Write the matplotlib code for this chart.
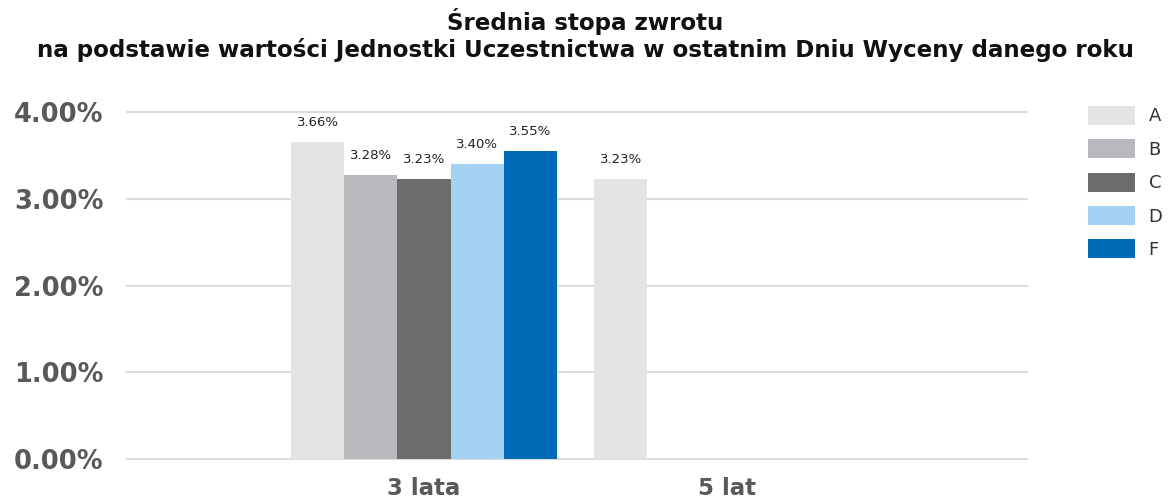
import matplotlib.pyplot as plt
import numpy as np
from matplotlib.ticker import FuncFormatter

# data
categories = ['3 lata', '5 lat']
series = ['A', 'B', 'C', 'D', 'F']
values = {
    'A': [3.66, 3.23],
    'B': [3.28, np.nan],
    'C': [3.23, np.nan],
    'D': [3.40, np.nan],
    'F': [3.55, np.nan],
}
colors = ['#e4e4e4', '#b8b9bc', '#6b6c6e', '#a3d2f2', '#006cb8']

title = 'Średnia stopa zwrotu\nna podstawie wartości Jednostki Uczestnictwa w ostatnim Dniu Wyceny danego roku'

fig = plt.figure(figsize=(11.71, 5.03), dpi=100)
ax = fig.add_axes([0.1085, 0.0875, 0.7685, 0.6895])

x = np.arange(len(categories))
bw = 0.175
for i, s in enumerate(series):
    pos = x + (i - 2) * bw
    vals = np.array(values[s])
    ax.bar(pos, vals, width=bw, color=colors[i], label=s, zorder=3)
    for p, v in zip(pos, vals):
        if not np.isnan(v):
            ax.text(p, v + 0.15, f'{v:.2f}%', ha='center', va='bottom',
                    fontsize=9.5, color='#222222')

ax.set_xlim(-0.98, 1.99)
ax.set_ylim(0, 4.0)
ax.set_yticks([0, 1, 2, 3, 4])
ax.yaxis.set_major_formatter(FuncFormatter(lambda v, p: f'{v:.2f}%'))
ax.set_xticks(x)
ax.set_xticklabels(categories)
ax.grid(axis='y', color='#dcdcdc', lw=1.5, zorder=0)
for gl in ax.get_ygridlines():
    gl.set_clip_on(False)
ax.set_axisbelow(True)
for sp in ax.spines.values():
    sp.set_visible(False)
ax.tick_params(axis='both', length=0, labelcolor='#595959')
ax.tick_params(axis='y', pad=17, labelsize=18.5)
ax.tick_params(axis='x', pad=13, labelsize=16.5)
for lab in ax.get_xticklabels() + ax.get_yticklabels():
    lab.set_fontweight('bold')

fig.text(0.5, 0.985, title, ha='center', va='top', fontsize=16.6,
         fontweight='bold', color='#111111', linespacing=1.2)

leg = ax.legend(loc='upper left', bbox_to_anchor=(1.05, 1.065), frameon=False,
                fontsize=13, handlelength=2.6, handleheight=1.25,
                labelspacing=0.76, handletextpad=0.75)
for t in leg.get_texts():
    t.set_color('#333333')

fig.savefig('out.png', dpi=100)
